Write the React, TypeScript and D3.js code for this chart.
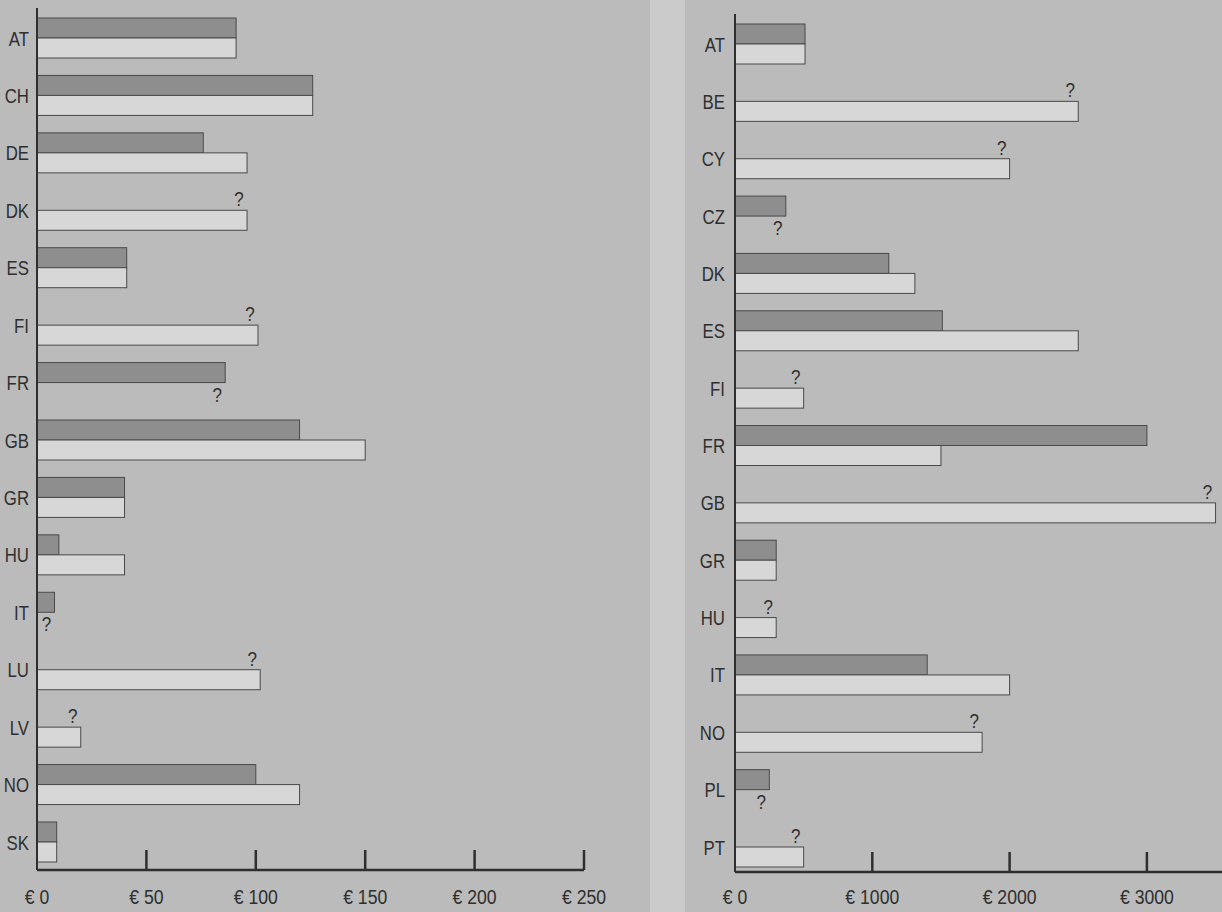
import { useRef, useEffect } from 'react'
import * as d3 from 'd3'

// left panel (€ 0 - 250)
const leftCountries = ['AT', 'CH', 'DE', 'DK', 'ES', 'FI', 'FR', 'GB', 'GR', 'HU', 'IT', 'LU', 'LV', 'NO', 'SK']
const leftDark: (number | null)[] = [91, 126, 76, null, 41, null, 86, 120, 40, 10, 8, null, null, 100, 9]
const leftLight: (number | null)[] = [91, 126, 96, 96, 41, 101, null, 150, 40, 40, null, 102, 20, 120, 9]
const leftTicks = [0, 50, 100, 150, 200, 250]

// right panel (€ 0 - 3000+)
const rightCountries = ['AT', 'BE', 'CY', 'CZ', 'DK', 'ES', 'FI', 'FR', 'GB', 'GR', 'HU', 'IT', 'NO', 'PL', 'PT']
const rightDark: (number | null)[] = [510, null, null, 370, 1120, 1510, null, 3000, null, 300, null, 1400, null, 250, null]
const rightLight: (number | null)[] = [510, 2500, 2000, null, 1310, 2500, 500, 1500, 3500, 300, 300, 2000, 1800, null, 500]
const rightTicks = [0, 1000, 2000, 3000]

const W = 1222
const H = 912
const FONT = 'Liberation Sans, Arial, sans-serif'
const BG = '#bbbbbb'
const DARK = '#8e8e8e'
const LIGHT = '#d7d7d7'
const INK = '#2f2f2f'

type Panel = {
  countries: string[]
  dark: (number | null)[]
  light: (number | null)[]
  ticks: number[]
  domainMax: number
  x0: number
  x1: number
  axisEnd: number
  yFirst: number
  yLast: number
  axisTop: number
  axisY: number
  labelGap: number
}

export default function App() {
  const ref = useRef<SVGSVGElement>(null)

  useEffect(() => {
    if (!ref.current) return
    const svg = d3.select(ref.current)
    svg.selectAll('*').remove()

    svg.append('rect').attr('width', W).attr('height', H).attr('fill', BG)
    // light strip between the two panels
    svg.append('rect').attr('x', 650).attr('y', 0).attr('width', 35).attr('height', H).attr('fill', '#cbcbcb')

    const condensed = (sel: d3.Selection<SVGTextElement, unknown, null, undefined>, x: number, y: number, sx: number) =>
      sel.attr('transform', `translate(${x},${y}) scale(${sx},1)`)

    const drawPanel = (p: Panel) => {
      const g = svg.append('g')
      const x = d3.scaleLinear().domain([0, p.domainMax]).range([p.x0, p.x1])
      const y = d3.scalePoint<string>().domain(p.countries).range([p.yFirst, p.yLast])
      const barH = 20

      p.countries.forEach((c, i) => {
        const cy = y(c)!
        const d = p.dark[i]
        const l = p.light[i]

        if (d != null) {
          g.append('rect')
            .attr('x', x(0))
            .attr('y', cy - barH)
            .attr('width', x(d) - x(0))
            .attr('height', barH)
            .attr('fill', DARK)
            .attr('stroke', '#4a4a4a')
            .attr('stroke-width', 1)
        }
        if (l != null) {
          g.append('rect')
            .attr('x', x(0))
            .attr('y', cy)
            .attr('width', x(l) - x(0))
            .attr('height', barH)
            .attr('fill', LIGHT)
            .attr('stroke', '#4a4a4a')
            .attr('stroke-width', 1)
        }

        // question mark where one of the two values is unknown
        if (d == null && l != null) {
          condensed(g.append('text'), x(l) - 8, cy - 4, 0.85)
            .attr('text-anchor', 'middle')
            .attr('font-family', FONT)
            .attr('font-size', 20)
            .attr('fill', INK)
            .text('?')
        }
        if (l == null && d != null) {
          condensed(g.append('text'), x(d) - 8, cy + 19, 0.85)
            .attr('text-anchor', 'middle')
            .attr('font-family', FONT)
            .attr('font-size', 20)
            .attr('fill', INK)
            .text('?')
        }

        condensed(g.append('text'), p.x0 - p.labelGap, cy + 7.5, 0.8)
          .attr('text-anchor', 'end')
          .attr('font-family', FONT)
          .attr('font-size', 21)
          .attr('fill', INK)
          .text(c)
      })

      // axes
      g.append('line')
        .attr('x1', p.x0)
        .attr('x2', p.x0)
        .attr('y1', p.axisTop)
        .attr('y2', p.axisY)
        .attr('stroke', INK)
        .attr('stroke-width', 2)
      g.append('line')
        .attr('x1', p.x0)
        .attr('x2', p.axisEnd)
        .attr('y1', p.axisY)
        .attr('y2', p.axisY)
        .attr('stroke', INK)
        .attr('stroke-width', 2.5)

      p.ticks.forEach((t) => {
        if (t > 0) {
          g.append('line')
            .attr('x1', x(t))
            .attr('x2', x(t))
            .attr('y1', p.axisY - 20)
            .attr('y2', p.axisY)
            .attr('stroke', INK)
            .attr('stroke-width', 2.5)
        }
        condensed(g.append('text'), x(t), 904, 0.84)
          .attr('text-anchor', 'middle')
          .attr('font-family', FONT)
          .attr('font-size', 21)
          .attr('fill', INK)
          .text(`€ ${t}`)
      })
    }

    drawPanel({
      countries: leftCountries,
      dark: leftDark,
      light: leftLight,
      ticks: leftTicks,
      domainMax: 250,
      x0: 37,
      x1: 584,
      axisEnd: 584,
      yFirst: 38,
      yLast: 842,
      axisTop: 8,
      axisY: 870,
      labelGap: 8,
    })

    drawPanel({
      countries: rightCountries,
      dark: rightDark,
      light: rightLight,
      ticks: rightTicks,
      domainMax: 3600,
      x0: 735,
      x1: 735 + 3.6 * 137.3,
      axisEnd: W,
      yFirst: 44,
      yLast: 847,
      axisTop: 14,
      axisY: 872,
      labelGap: 10,
    })
  }, [])

  return (
    <svg
      ref={ref}
      width={W}
      height={H}
      style={{ position: 'absolute', left: 0, top: 0, display: 'block' }}
    />
  )
}
